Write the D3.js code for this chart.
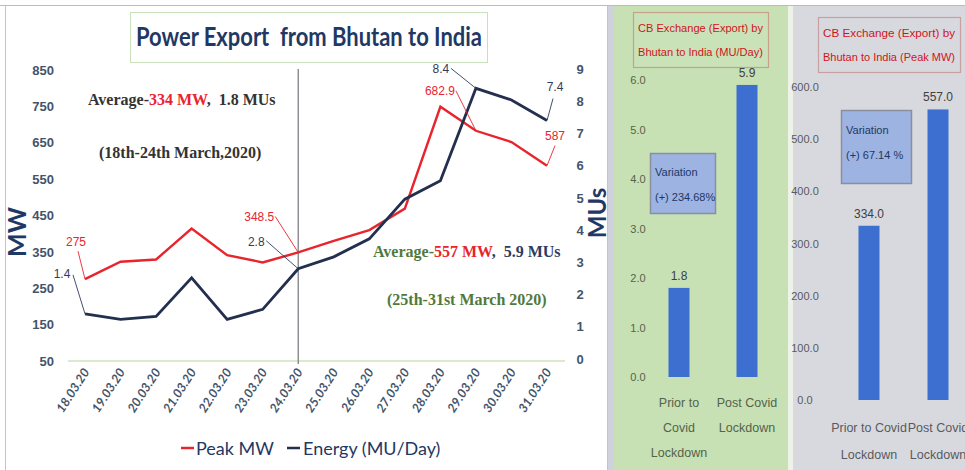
<!DOCTYPE html>
<html>
<head>
<meta charset="utf-8">
<script src="https://cdn.jsdelivr.net/npm/d3@7"></script>
<style>
  body { margin: 0; background: #fff; }
  svg { display: block; font-family: Lato, "Liberation Sans", sans-serif; }
</style>
</head>
<body>
<svg id="canvas" width="965" height="470"></svg>
<script>
// line chart data
var dates = ["18.03.20", "19.03.20", "20.03.20", "21.03.20", "22.03.20", "23.03.20", "24.03.20",
  "25.03.20", "26.03.20", "27.03.20", "28.03.20", "29.03.20", "30.03.20", "31.03.20"];
var peakMW = [275, 323, 329, 414, 341, 321, 348.5, 380, 410, 469, 749, 682.9, 652, 587];
var energyMU = [1.4, 1.23, 1.32, 2.52, 1.23, 1.54, 2.8, 3.17, 3.73, 4.96, 5.53, 8.4, 8.04, 7.4];
var mwTicks = [50, 150, 250, 350, 450, 550, 650, 750, 850];
var muTicks = [0, 1, 2, 3, 4, 5, 6, 7, 8, 9];
var labelled = [0, 6, 11, 13];

// bar charts data
var periods = ["Prior to Covid Lockdown", "Post Covid Lockdown"];
var avgMU = [1.8, 5.9];
var avgMW = [334.0, 557.0];
var muBarTicks = [0, 1, 2, 3, 4, 5, 6];
var mwBarTicks = [0, 100, 200, 300, 400, 500, 600];

var navy = "#1f3864";
var lineNavy = "#232f4f";
var red = "#e8242c";
var narrow = "'Liberation Sans Narrow', sans-serif";
var svg = d3.select("#canvas");

// ---- panels ----
svg.append("rect").attr("x", 0).attr("y", 0).attr("width", 965).attr("height", 470).attr("fill", "#fff");
svg.append("rect").attr("x", 5.5).attr("y", 5.5).attr("width", 602).attr("height", 470)
  .attr("fill", "#fff").attr("stroke", "#c3c3c8");
svg.append("rect").attr("x", 608).attr("y", 5).attr("width", 6).attr("height", 465).attr("fill", "#cfd1dc");
svg.append("rect").attr("x", 614).attr("y", 5).attr("width", 174).attr("height", 465).attr("fill", "#c7e1b5");
svg.append("rect").attr("x", 788).attr("y", 5).attr("width", 5).attr("height", 465).attr("fill", "#eef3ea");
svg.append("rect").attr("x", 793).attr("y", 5).attr("width", 172).attr("height", 465).attr("fill", "#d8d9de");
svg.append("line").attr("x1", 0).attr("x2", 965).attr("y1", 5.5).attr("y2", 5.5).attr("stroke", "#b8bac4");

// ---- line chart ----
var x = d3.scalePoint().domain(dates).range([85, 547]);
var yMW = d3.scaleLinear().domain([50, 850]).range([361, 70]);
var yMU = d3.scaleLinear().domain([0, 9]).range([359, 69]);

// title
svg.append("rect").attr("x", 130.5).attr("y", 12.5).attr("width", 357).attr("height", 50)
  .attr("fill", "#fff").attr("stroke", "#c9e0bb");
svg.append("text").attr("x", 136).attr("y", 46)
  .attr("font-size", 26).attr("font-weight", "bold").attr("fill", navy).style("white-space", "pre")
  .attr("textLength", 346).attr("lengthAdjust", "spacingAndGlyphs")
  .text("Power Export  from Bhutan to India");

var leftAxis = d3.axisLeft(yMW).tickValues(mwTicks).tickSize(0).tickPadding(0);
var gl = svg.append("g").attr("transform", "translate(54,0)").call(leftAxis);
var rightAxis = d3.axisRight(yMU).tickValues(muTicks).tickSize(0).tickPadding(0);
var gr = svg.append("g").attr("transform", "translate(580,0)").call(rightAxis);
gr.selectAll("text").attr("text-anchor", "middle");
[gl, gr].forEach(function (g) {
  g.select(".domain").remove();
  g.selectAll("text").attr("font-size", 13).attr("font-weight", "bold").attr("fill", "#44546a")
    .attr("font-family", narrow);
});

svg.append("text").attr("transform", "translate(26,232) rotate(-90)").attr("text-anchor", "middle")
  .attr("font-size", 25).attr("font-weight", "bold").attr("fill", navy).text("MW");
svg.append("text").attr("transform", "translate(606,213) rotate(-90)").attr("text-anchor", "middle")
  .attr("font-size", 24).attr("font-weight", "bold").attr("fill", navy).text("MUs");

// bottom axis line and lockdown divider
svg.append("line").attr("x1", 68).attr("x2", 565).attr("y1", yMW(50)).attr("y2", yMW(50))
  .attr("stroke", "#b5d5a0").attr("stroke-width", 1.2);
svg.append("line").attr("x1", x("24.03.20")).attr("x2", x("24.03.20")).attr("y1", 69).attr("y2", 364)
  .attr("stroke", "#7f7f86").attr("stroke-width", 1.3);

// date labels
svg.selectAll(".date").data(dates).join("text").attr("class", "date")
  .attr("transform", function (d) { return "translate(" + (x(d) + 5) + ",372) rotate(-57)"; })
  .attr("text-anchor", "end").attr("font-size", 12.5).attr("font-weight", "bold").attr("font-style", "italic")
  .attr("fill", "#44546a").text(function (d) { return d; });

// lines
var mwLine = d3.line().x(function (d, i) { return x(dates[i]); }).y(function (d) { return yMW(d); });
var muLine = d3.line().x(function (d, i) { return x(dates[i]); }).y(function (d) { return yMU(d); });
svg.append("path").datum(peakMW).attr("d", mwLine).attr("fill", "none").attr("stroke", red).attr("stroke-width", 2.4);
svg.append("path").datum(energyMU).attr("d", muLine).attr("fill", "none").attr("stroke", lineNavy).attr("stroke-width", 2.8);

// data labels with leader lines: [label centre dx, dy, leader start dx, dy] relative to the point
var mwOff = { 0: [-9, -37, -7, -28], 6: [-39, -35, -23, -36], 11: [-36, -40, -20, -40], 13: [8, -30, 8, -20] };
var muOff = { 0: [-23, -40, -12, -39], 6: [-42, -27, -32, -28], 11: [-35, -19, -25, -20], 13: [8, -34, 6, -22] };
function dataLabel(px, py, o, txt, col) {
  svg.append("line").attr("x1", px).attr("y1", py).attr("x2", px + o[2]).attr("y2", py + o[3])
    .attr("stroke", col).attr("stroke-width", 0.9);
  svg.append("text").attr("x", px + o[0]).attr("y", py + o[1] + 4)
    .attr("text-anchor", "middle").attr("font-size", 12)
    .attr("font-family", narrow).attr("fill", col).text(txt);
}
labelled.forEach(function (i) {
  var px = x(dates[i]);
  dataLabel(px, yMW(peakMW[i]), mwOff[i], peakMW[i], red);
  dataLabel(px, yMU(energyMU[i]), muOff[i], energyMU[i].toFixed(1), "#2f3b5e");
});

// annotations
function note(xp, yp, parts) {
  var t = svg.append("text").attr("x", xp).attr("y", yp).attr("font-size", 16).attr("font-weight", "bold")
    .attr("font-family", "'Liberation Serif', 'DejaVu Serif', serif").style("white-space", "pre");
  parts.forEach(function (p) { t.append("tspan").attr("fill", p[1]).text(p[0]); });
}
note(88, 105, [["Average-", "#333"], ["334 MW", red], [",  1.8 MUs", "#333"]]);
note(99, 158, [["(18th-24th March,2020)", "#333"]]);
note(373, 257, [["Average-", "#4f7a3c"], ["557 MW", red], [",  5.9 MUs", "#2f3b5e"]]);
note(387, 305, [["(25th-31st March 2020)", "#4f7a3c"]]);

// legend
var lg = svg.append("g").attr("font-size", 18).attr("fill", navy);
lg.append("line").attr("x1", 181).attr("x2", 194).attr("y1", 448).attr("y2", 448).attr("stroke", red).attr("stroke-width", 2.5);
lg.append("text").attr("x", 196).attr("y", 455).text("Peak MW");
lg.append("line").attr("x1", 287).attr("x2", 300).attr("y1", 448).attr("y2", 448).attr("stroke", lineNavy).attr("stroke-width", 2.5);
lg.append("text").attr("x", 303).attr("y", 455).text("Energy (MU/Day)");

// ---- bar charts ----
function barChart(opt) {
  var xb = d3.scalePoint().domain(periods).range(opt.xr);
  var bw = 21;
  var yb = d3.scaleLinear().domain(opt.domain).range(opt.yr);
  var g = svg.append("g");
  // title box
  g.append("rect").attr("x", opt.box[0] + 0.5).attr("y", opt.box[1] + 0.5).attr("width", opt.box[2]).attr("height", opt.box[3])
    .attr("fill", opt.boxFill).attr("stroke", opt.boxStroke).attr("stroke-width", 1.2);
  opt.title.forEach(function (s, i) {
    g.append("text").attr("x", opt.box[0] + opt.box[2] / 2).attr("y", opt.box[1] + 20 + i * 24)
      .attr("text-anchor", "middle").attr("font-size", 11.5).attr("fill", "#d0141c")
      .attr("font-family", narrow).attr("textLength", opt.box[2] - 10).attr("lengthAdjust", "spacingAndGlyphs")
      .text(s);
  });
  var ax = d3.axisLeft(yb).tickValues(opt.ticks).tickSize(0).tickPadding(0)
    .tickFormat(function (d) { return d.toFixed(1); });
  var ga = g.append("g").attr("transform", "translate(" + opt.axisX + ",0)").call(ax);
  ga.select(".domain").remove();
  ga.selectAll("text").attr("font-size", 11).attr("fill", opt.tickColor).attr("text-anchor", "middle")
    .attr("font-family", narrow);
  g.selectAll(".bar").data(opt.values).join("rect")
    .attr("x", function (d, i) { return xb(periods[i]) - bw / 2; })
    .attr("width", bw)
    .attr("y", function (d) { return yb(d); })
    .attr("height", function (d) { return yb(0) - yb(d); })
    .attr("fill", "#3d6fd0");
  g.selectAll(".val").data(opt.values).join("text")
    .attr("x", function (d, i) { return xb(periods[i]); })
    .attr("y", function (d) { return yb(d) - 8; })
    .attr("text-anchor", "middle").attr("font-size", 12).attr("fill", "#404040")
    .attr("font-family", narrow)
    .text(function (d) { return d.toFixed(1); });
  // variation box
  g.append("rect").attr("x", opt.vbox[0] + 0.5).attr("y", opt.vbox[1] + 0.5).attr("width", opt.vbox[2]).attr("height", opt.vbox[3])
    .attr("fill", "#9db3e2").attr("stroke", "#8a8fa0").attr("stroke-width", 1.5);
  opt.vtext.forEach(function (s, i) {
    g.append("text").attr("x", opt.vbox[0] + 5).attr("y", opt.vbox[1] + opt.vtop + i * 25)
      .attr("font-size", 11).attr("fill", navy)
      .attr("font-family", narrow).style("white-space", "pre").text(s);
  });
  opt.cats.forEach(function (lines, i) {
    lines.forEach(function (s, j) {
      g.append("text").attr("x", xb(periods[i])).attr("y", opt.catY + j * opt.catGap)
        .attr("text-anchor", "middle").attr("font-size", 12.5).attr("fill", opt.tickColor)
        .attr("font-family", narrow).text(s);
    });
  });
}

barChart({
  xr: [679, 747], yr: [377, 80], domain: [0, 6], ticks: muBarTicks, values: avgMU, axisX: 638,
  box: [633, 12, 135, 55], boxFill: "#c9e2b8", boxStroke: "#c8a089",
  title: ["CB Exchange (Export) by", "Bhutan to India (MU/Day)"],
  vbox: [650, 153, 65, 60], vtop: 23, vtext: ["Variation", "(+) 234.68%"],
  cats: [["Prior to", "Covid", "Lockdown"], ["Post Covid", "Lockdown"]], catY: 407, catGap: 25,
  tickColor: "#55634a"
});
barChart({
  xr: [869, 938], yr: [400, 87], domain: [0, 600], ticks: mwBarTicks, values: avgMW, axisX: 805,
  box: [818, 17, 142, 55], boxFill: "#d8d9de", boxStroke: "#c8a0a0",
  title: ["CB Exchange (Export) by", "Bhutan to India (Peak MW)"],
  vbox: [841, 110, 70, 73], vtop: 24, vtext: ["Variation", "(+) 67.14 %"],
  cats: [["Prior to Covid", "Lockdown"], ["Post Covid", "Lockdown"]], catY: 432, catGap: 27,
  tickColor: "#59595f"
});
</script>
</body>
</html>
